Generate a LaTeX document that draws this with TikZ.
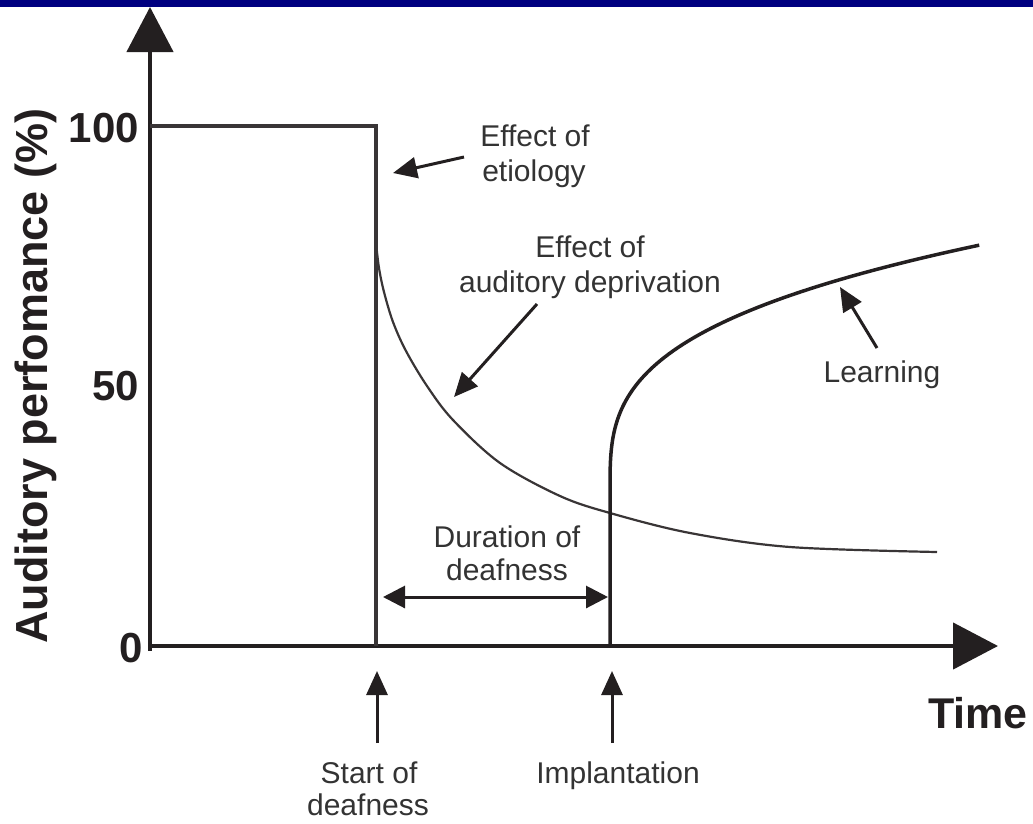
\documentclass[tikz,border=0pt]{standalone}
\usepackage{fontspec}
\setmainfont{Liberation Sans}
\usetikzlibrary{arrows.meta}
\definecolor{ink}{HTML}{231F20}
\definecolor{txt}{HTML}{333333}
\definecolor{bar}{HTML}{000080}
\begin{document}
\begin{tikzpicture}[x=1pt,y=-1pt,
  axis/.style={draw=ink, line width=4.5pt, -{Triangle[length=45pt,width=46pt]}},
  pointer/.style={draw=ink, line width=3pt, -{Triangle[length=24pt,width=21pt]}},
  span/.style={draw=ink, line width=3pt, {Triangle[length=22pt,width=22pt]}-{Triangle[length=22pt,width=22pt]}},
  stepline/.style={draw=ink!90, line width=3.2pt},
  decay/.style={draw=ink!90, line width=2.2pt},
  growth/.style={draw=ink, line width=3.5pt},
  lbl/.style={text=txt, font=\fontsize{30}{36}\selectfont, inner sep=0pt, anchor=base},
  ticklbl/.style={text=ink, font=\fontsize{42}{48}\selectfont\bfseries, inner sep=0pt, anchor=east},
]
\useasboundingbox (0,0) rectangle (1033,823);
\fill[bar] (0,0) rectangle (1033,7);

% axes
\coordinate (origin) at (150,648);
\coordinate (ybase) at (150,650.5);
\coordinate (ytop) at (150,7);
\coordinate (xend) at (998,646);
\coordinate (xbase) at (148,646);
\draw[axis] (ybase) -- (ytop);
\draw[axis] (xbase) -- (xend);

% tick labels and axis titles
\node[ticklbl] (t100) at (139,128) {100};
\node[ticklbl] (t50) at (139,386) {50};
\node[ticklbl] (t0) at (143,648) {0};
\node[text=ink, font=\fontsize{45}{52}\selectfont\bfseries, rotate=90, inner sep=0pt] (ylab) at (36,376) {Auditory perfomance (\%)};
\node[text=ink, font=\fontsize{43}{50}\selectfont\bfseries, inner sep=0pt, anchor=base west] (time) at (928,728) {Time};

% normal hearing, then sudden loss at the onset of deafness
\coordinate (full) at (150,126);
\coordinate (onsetTop) at (376,126);
\coordinate (onsetFoot) at (376,646);
\draw[stepline] (full) -- (onsetTop) -- (onsetFoot);

% decline due to auditory deprivation
\draw[decay] plot[smooth, tension=0.55] coordinates {
  (376,243) (379,268) (384,292) (393,322) (406,351) (427,386)
  (453,420) (500,463) (560,496) (610,513) (690,533) (790,547) (937,552)};

% implantation and recovery through learning
\coordinate (implFoot) at (610,646);
\coordinate (implStart) at (610,490);
\draw[growth] (implFoot) -- (implStart)
  -- plot[domain=0:1, samples=80, variable=\u]
     ({610+370*\u*\u*\u*sqrt(sqrt(sqrt(\u)))}, {490-245*\u});

% duration of deafness
\coordinate (durL) at (383,597);
\coordinate (durR) at (608,597);
\draw[span] (durL) -- (durR);
\node[lbl] (dur1) at (507,547) {Duration of};
\node[lbl] (dur2) at (507,580) {deafness};

% pointers with their captions
\node[lbl] (etio1) at (535,146) {Effect of};
\node[lbl] (etio2) at (534,181) {etiology};
\coordinate (etioTail) at (464,157);
\coordinate (etioTip) at (393,173);
\draw[pointer] (etioTail) -- (etioTip);

\node[lbl] (dep1) at (590,257) {Effect of};
\node[lbl] (dep2) at (590,292) {auditory deprivation};
\coordinate (depTail) at (537,304);
\coordinate (depTip) at (454,397);
\draw[pointer] (depTail) -- (depTip);

\node[lbl] (learn) at (882,382) {Learning};
\coordinate (learnTail) at (877,348);
\coordinate (learnTip) at (840,287);
\draw[pointer] (learnTail) -- (learnTip);

% events on the time axis
\coordinate (startTail) at (377,743);
\coordinate (startTip) at (377,671);
\draw[pointer] (startTail) -- (startTip);
\node[lbl] (start1) at (369,783) {Start of};
\node[lbl] (start2) at (368,815) {deafness};

\coordinate (implTail) at (612,743);
\coordinate (implTip) at (612,671);
\draw[pointer] (implTail) -- (implTip);
\node[lbl] (impl) at (618,783) {Implantation};
\end{tikzpicture}
\end{document}
